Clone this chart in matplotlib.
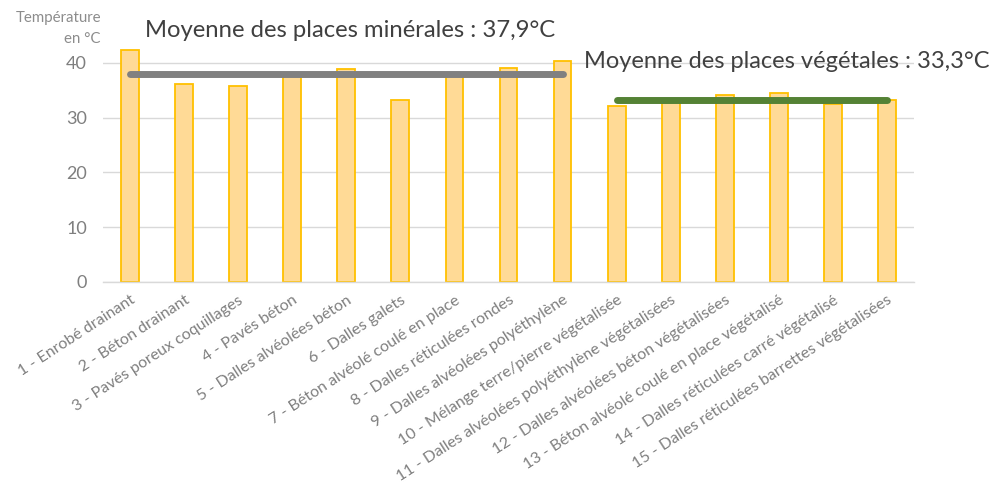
import matplotlib
matplotlib.use("Agg")
import matplotlib.pyplot as plt

plt.rcParams['font.family'] = ['Lato', 'DejaVu Sans']

categories = [
    "1 - Enrobé drainant", "2 - Béton drainant", "3 - Pavés poreux coquillages",
    "4 - Pavés béton", "5 - Dalles alvéolées béton", "6 - Dalles galets",
    "7 - Béton alvéolé coulé en place", "8 - Dalles réticulées rondes",
    "9 - Dalles alvéolées polyéthylène", "10 - Mélange terre/pierre végétalisée",
    "11 - Dalles alvéolées polyéthylène végétalisées",
    "12 - Dalles alvéolées béton végétalisées",
    "13 - Béton alvéolé coulé en place végétalisé",
    "14 - Dalles réticulées carré végétalisé",
    "15 - Dalles réticulées barrettes végétalisées",
]
temperatures = [42.4, 36.1, 35.7, 37.7, 38.9, 33.2, 37.7, 39.0, 40.3,
                32.2, 33.2, 34.2, 34.5, 32.4, 33.3]
mineral_mean = 37.9
vegetal_mean = 33.3
mineral_idx = (0, 8)
vegetal_idx = (9, 14)
yticks = [0, 10, 20, 30, 40]

fig = plt.figure(figsize=(9.93, 4.86), dpi=100)
ax = fig.add_axes([103/993, 0.4198, (914-103)/993, 0.927-0.4198])

x = list(range(len(categories)))
ax.bar(x, temperatures, width=0.33, color='#FFDA96', edgecolor='#FFC000',
       linewidth=1.3, zorder=2)

ax.plot([mineral_idx[0], mineral_idx[1]], [mineral_mean, mineral_mean],
        color='#808080', linewidth=5, solid_capstyle='round', zorder=3)
ax.plot([vegetal_idx[0], vegetal_idx[1]], [vegetal_mean, vegetal_mean],
        color='#548235', linewidth=5, solid_capstyle='round', zorder=3)

ax.set_xlim(-0.5, len(categories) - 0.5)
ax.set_ylim(0, 45)
ax.set_yticks(yticks)
ax.yaxis.grid(True, color='#D9D9D9', linewidth=1, zorder=0)
ax.set_axisbelow(True)
for s in ['top', 'right', 'left']:
    ax.spines[s].set_visible(False)
ax.spines['bottom'].set_color('#D9D9D9')
ax.spines['bottom'].set_linewidth(1)
ax.tick_params(axis='both', length=0, colors='#7F7F7F')
ax.tick_params(axis='y', labelsize=13, pad=11.5)
ax.set_xticks(x)
ax.set_xticklabels(categories, rotation=33, ha='right', rotation_mode='anchor',
                   fontsize=11.5, color='#7F7F7F')
ax.tick_params(axis='x', pad=8)

fig.text(101/993, 1 - 18/486, "Température", ha='right', va='center',
         fontsize=10.8, color='#8C8C8C')
fig.text(101/993, 1 - 39/486, "en °C", ha='right', va='center',
         fontsize=10.8, color='#8C8C8C')

fig.text(145/993, 1 - 30/486, "Moyenne des places minérales : 37,9°C",
         ha='left', va='center', fontsize=17.2, color='#404040')
fig.text(584/993, 1 - 62/486, "Moyenne des places végétales : 33,3°C",
         ha='left', va='center', fontsize=17.0, color='#404040')

fig.savefig("out.png", dpi=100)
